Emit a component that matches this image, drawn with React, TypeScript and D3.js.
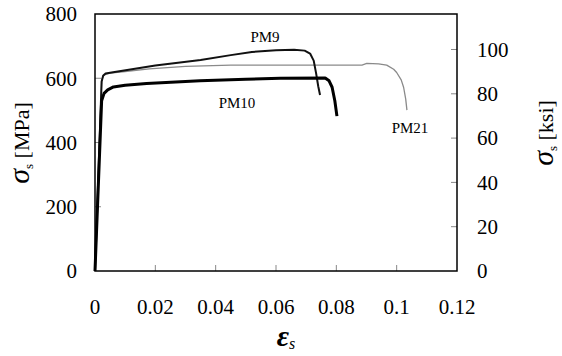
import React from "react";
import * as d3 from "d3";

const xTicks = [0, 0.02, 0.04, 0.06, 0.08, 0.1, 0.12];
const xTickLabels = ["0", "0.02", "0.04", "0.06", "0.08", "0.1", "0.12"];
const yTicksMPa = [0, 200, 400, 600, 800];
const yTicksKsi = [0, 20, 40, 60, 80, 100];

// strain, stress (MPa)
const pm9: [number, number][] = [
  [0, 0], [0.0022, 590], [0.0027, 608], [0.0035, 615], [0.006, 619], [0.02, 640],
  [0.035, 657], [0.045, 672], [0.052, 682], [0.06, 687], [0.066, 689],
  [0.0695, 686], [0.0713, 677], [0.0725, 655], [0.0733, 615], [0.0740, 575], [0.0746, 548],
];
const pm10: [number, number][] = [
  [0, 0], [0.0022, 530], [0.0030, 553], [0.0042, 564], [0.0061, 573], [0.01, 578],
  [0.0171, 584], [0.0348, 592], [0.05, 597], [0.0614, 600], [0.0763, 601],
  [0.0776, 592], [0.0786, 572], [0.0795, 530], [0.0802, 482],
];
const pm21: [number, number][] = [
  [0, 0], [0.0022, 592], [0.0028, 610], [0.005, 616], [0.01, 621], [0.018, 629],
  [0.03, 637], [0.045, 641], [0.0885, 641], [0.0901, 646], [0.094, 645],
  [0.0967, 641], [0.099, 628], [0.1, 618], [0.1015, 595], [0.1023, 572],
  [0.103, 535], [0.1034, 501],
];
const seriesNames = ["PM9", "PM10", "PM21"];

const W = 562, H = 356;
const L = 95, R = 457, T = 14, B = 271;
const MPA_PER_KSI = 6.895;

export default function App() {
  const x = d3.scaleLinear().domain([0, 0.12]).range([L, R]);
  const y = d3.scaleLinear().domain([0, 800]).range([B, T]);
  const yK = d3.scaleLinear().domain([0, 800 / MPA_PER_KSI]).range([B, T]);
  const line = d3.line<[number, number]>().x(d => x(d[0])).y(d => y(d[1])).curve(d3.curveLinear);
  const font = "'Liberation Serif', 'Times New Roman', serif";
  const tickColor = "#888";

  return (
    <svg width={W} height={H} style={{ position: "absolute", left: 0, top: 0, background: "#fff" }} fontFamily={font}>
      {/* ticks */}
      {yTicksMPa.filter(v => v > 0 && v < 800).map(v => (
        <line key={"yl" + v} x1={L} x2={L + 6} y1={y(v)} y2={y(v)} stroke={tickColor} strokeWidth={1} />
      ))}
      {yTicksKsi.filter(v => v > 0).map(v => (
        <line key={"yr" + v} x1={R - 6} x2={R} y1={yK(v)} y2={yK(v)} stroke={tickColor} strokeWidth={1} />
      ))}
      {xTicks.filter(v => v > 0 && v < 0.12).map(v => (
        <line key={"xt" + v} x1={x(v)} x2={x(v)} y1={B} y2={B - 6} stroke={tickColor} strokeWidth={1} />
      ))}
      {/* curves */}
      <path d={line(pm21) || ""} fill="none" stroke="#8a8a8a" strokeWidth={1.3} strokeLinejoin="round" />
      <path d={line(pm9) || ""} fill="none" stroke="#111" strokeWidth={2} strokeLinejoin="round" />
      <path d={line(pm10) || ""} fill="none" stroke="#000" strokeWidth={3} strokeLinejoin="round" />
      {/* frame */}
      <rect x={L} y={T} width={R - L} height={B - T} fill="none" stroke="#000" strokeWidth={1.5} />
      {/* tick labels */}
      {yTicksMPa.map(v => (
        <text key={"yll" + v} x={77} y={y(v)} dy="0.35em" textAnchor="end" fontSize={21}>{v}</text>
      ))}
      {yTicksKsi.map(v => (
        <text key={"yrl" + v} x={477} y={yK(v)} dy="0.35em" textAnchor="start" fontSize={21}>{v}</text>
      ))}
      {xTicks.map((v, i) => (
        <text key={"xl" + v} x={x(v)} y={314} textAnchor="middle" fontSize={21}>{xTickLabels[i]}</text>
      ))}
      {/* series labels */}
      <text x={265} y={42} textAnchor="middle" fontSize={15}>{seriesNames[0]}</text>
      <text x={237} y={108} textAnchor="middle" fontSize={15}>{seriesNames[1]}</text>
      <text x={410} y={133} textAnchor="middle" fontSize={15}>{seriesNames[2]}</text>
      {/* axis titles */}
      <text transform="translate(29,143) rotate(-90)" textAnchor="middle" fontSize={22}>
        <tspan fontSize={30} fontStyle="italic">σ</tspan>
        <tspan fontSize={13} dy={4}>s</tspan>
        <tspan dy={-4}>{"  [MPa]"}</tspan>
      </text>
      <text transform="translate(553,133) rotate(-90)" textAnchor="middle" fontSize={22}>
        <tspan fontSize={30} fontStyle="italic">σ</tspan>
        <tspan fontSize={13} dy={4}>s</tspan>
        <tspan dy={-4}>{" [ksi]"}</tspan>
      </text>
      <text x={286} y={346} textAnchor="middle">
        <tspan fontSize={30} fontStyle="italic" fontWeight="bold">ε</tspan>
        <tspan fontSize={16} fontStyle="italic" dy={3}>s</tspan>
      </text>
    </svg>
  );
}
